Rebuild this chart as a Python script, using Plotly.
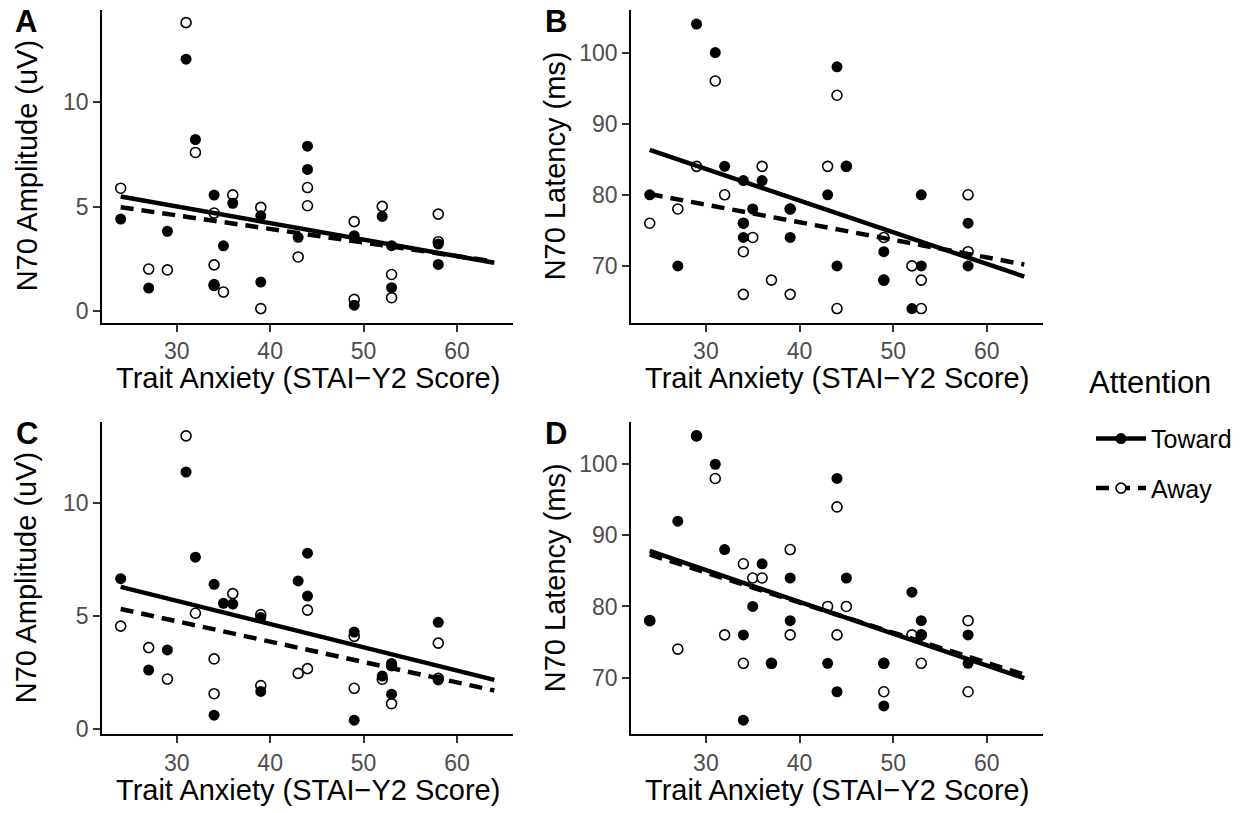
import plotly.graph_objects as go

# ---------------- data ----------------
A_toward_x = [24, 27, 29, 31, 32, 34, 34, 35, 36, 39, 39, 43, 44, 44, 49, 49, 52, 53, 53, 58, 58]
A_toward_y = [4.41, 1.11, 3.83, 12.06, 8.22, 5.56, 1.29, 3.13, 5.17, 4.57, 1.40, 3.54, 7.90, 6.79, 3.62, 0.29, 4.54, 1.13, 3.14, 3.22, 2.24]
A_away_x = [24, 27, 29, 31, 32, 34, 34, 34, 35, 36, 39, 39, 43, 44, 44, 49, 49, 52, 53, 53, 58, 58]
A_away_y = [5.89, 2.02, 1.98, 13.81, 7.60, 4.70, 2.22, 1.24, 0.92, 5.57, 4.97, 0.13, 2.60, 5.92, 5.05, 4.29, 0.57, 5.02, 1.76, 0.65, 4.65, 3.33]

B_toward_x = [24, 27, 29, 31, 32, 34, 34, 34, 35, 36, 39, 39, 43, 44, 44, 45, 49, 49, 52, 53, 53, 58, 58]
B_toward_y = [80, 70, 104, 100, 84, 82, 76, 74, 78, 82, 78, 74, 80, 98, 70, 84, 72, 68, 64, 80, 70, 76, 70]
B_away_x = [24, 27, 29, 31, 32, 34, 34, 34, 35, 36, 37, 39, 39, 43, 44, 44, 45, 49, 49, 52, 53, 53, 58, 58]
B_away_y = [76, 78, 84, 96, 80, 76, 72, 66, 74, 84, 68, 78, 66, 84, 94, 64, 84, 74, 68, 70, 68, 64, 80, 72]

C_toward_x = [24, 27, 29, 31, 32, 34, 34, 35, 36, 39, 39, 43, 44, 44, 49, 49, 52, 53, 53, 58, 58]
C_toward_y = [6.67, 2.63, 3.52, 11.39, 7.62, 6.42, 0.63, 5.58, 5.55, 4.95, 1.68, 6.57, 7.80, 5.90, 4.31, 0.41, 2.36, 2.92, 1.56, 4.74, 2.19]
C_away_x = [24, 27, 29, 31, 32, 34, 34, 36, 39, 39, 43, 44, 44, 49, 49, 52, 53, 53, 58, 58]
C_away_y = [4.57, 3.62, 2.23, 12.99, 5.14, 3.12, 1.58, 6.01, 5.08, 1.94, 2.48, 5.28, 2.69, 4.12, 1.82, 2.22, 2.82, 1.14, 3.82, 2.26]

D_toward_x = [24, 27, 29, 31, 32, 34, 34, 35, 36, 37, 39, 39, 43, 44, 44, 45, 49, 49, 52, 53, 53, 58, 58]
D_toward_y = [78, 92, 104, 100, 88, 76, 64, 80, 86, 72, 84, 78, 72, 98, 68, 84, 72, 66, 82, 78, 76, 76, 72]
D_away_x = [24, 27, 29, 31, 32, 34, 34, 35, 36, 37, 39, 39, 43, 44, 44, 45, 49, 49, 52, 53, 53, 58, 58]
D_away_y = [78, 74, 104, 98, 76, 86, 72, 84, 84, 72, 88, 76, 80, 94, 76, 80, 68, 72, 76, 72, 76, 78, 68]

# fitted regression lines, spanning x = 24..64
fit_x = [24, 64]
A_fit_toward = [5.49, 2.32]
A_fit_away = [4.98, 2.38]
B_fit_toward = [86.3, 68.5]
B_fit_away = [80.1, 70.2]
C_fit_toward = [6.31, 2.19]
C_fit_away = [5.33, 1.72]
D_fit_toward = [87.8, 69.9]
D_fit_away = [87.3, 70.4]

x_ticks = [30, 40, 50, 60]
amp_ticks = [0, 5, 10]
lat_ticks = [70, 80, 90, 100]

x_title = "Trait Anxiety (STAI\u2212Y2 Score)"
amp_title = "N70 Amplitude (uV)"
lat_title = "N70 Latency (ms)"
legend_title = "Attention"
group_names = ["Toward", "Away"]
panel_letters = ["A", "B", "C", "D"]

# ---------------- figure ----------------
W, H = 1244, 813
FONT = "Liberation Sans, Arial, Helvetica, sans-serif"

fig = go.Figure()

panels = [
    (A_toward_x, A_toward_y, A_away_x, A_away_y, A_fit_toward, A_fit_away),
    (B_toward_x, B_toward_y, B_away_x, B_away_y, B_fit_toward, B_fit_away),
    (C_toward_x, C_toward_y, C_away_x, C_away_y, C_fit_toward, C_fit_away),
    (D_toward_x, D_toward_y, D_away_x, D_away_y, D_fit_toward, D_fit_away),
]

filled_marker = dict(symbol="circle", size=11, color="black", line=dict(width=0))
open_marker = dict(symbol="circle", size=10, color="white", line=dict(width=1.6, color="black"))
DASH = "13px,8px"
LW = 4.5

for i, (tx, ty, ax_, ay_, ft, fa) in enumerate(panels):
    suffix = "" if i == 0 else str(i + 1)
    xa, ya = "x" + suffix, "y" + suffix
    fig.add_trace(go.Scatter(x=ax_, y=ay_, mode="markers", marker=open_marker,
                             xaxis=xa, yaxis=ya, showlegend=False, hoverinfo="skip"))
    fig.add_trace(go.Scatter(x=tx, y=ty, mode="markers", marker=filled_marker,
                             xaxis=xa, yaxis=ya, showlegend=False, hoverinfo="skip"))
    fig.add_trace(go.Scatter(x=fit_x, y=fa, mode="lines",
                             line=dict(color="black", width=LW, dash=DASH),
                             xaxis=xa, yaxis=ya, showlegend=False, hoverinfo="skip"))
    fig.add_trace(go.Scatter(x=fit_x, y=ft, mode="lines",
                             line=dict(color="black", width=LW),
                             xaxis=xa, yaxis=ya, showlegend=False, hoverinfo="skip"))

# legend entries
fig.add_trace(go.Scatter(x=[None], y=[None], mode="lines+markers", name=group_names[0],
                         line=dict(color="black", width=LW), marker=filled_marker,
                         legendgroup="t", xaxis="x", yaxis="y"))
fig.add_trace(go.Scatter(x=[None], y=[None], mode="lines+markers", name=group_names[1],
                         line=dict(color="black", width=LW, dash=DASH), marker=open_marker,
                         legendgroup="a", xaxis="x", yaxis="y"))

def px_x(p):
    return p / W

def px_y(p):
    return 1 - p / H

left_dom = [px_x(102), px_x(513)]
right_dom = [px_x(631), px_x(1043)]
top_dom = [px_y(326), px_y(10)]
bot_dom = [px_y(741.7), px_y(425.8)]

axis_common = dict(
    showline=True, linecolor="black", linewidth=1.6, mirror=False,
    ticks="outside", ticklen=7, tickwidth=1.5, tickcolor="#333333",
    showgrid=False, zeroline=False,
    tickfont=dict(family=FONT, size=23, color="#4D4D4D"),
)

xr = [22, 66]
layout_axes = {
    "xaxis": dict(domain=left_dom, anchor="y", range=xr, tickvals=x_ticks, **axis_common),
    "yaxis": dict(domain=top_dom, anchor="x", range=[-0.55, 14.42], tickvals=amp_ticks, **axis_common),
    "xaxis2": dict(domain=right_dom, anchor="y2", range=xr, tickvals=x_ticks, **axis_common),
    "yaxis2": dict(domain=top_dom, anchor="x2", range=[62, 106], tickvals=lat_ticks, **axis_common),
    "xaxis3": dict(domain=left_dom, anchor="y3", range=xr, tickvals=x_ticks, **axis_common),
    "yaxis3": dict(domain=bot_dom, anchor="x3", range=[-0.22, 13.62], tickvals=amp_ticks, **axis_common),
    "xaxis4": dict(domain=right_dom, anchor="y4", range=xr, tickvals=x_ticks, **axis_common),
    "yaxis4": dict(domain=bot_dom, anchor="x4", range=[62, 106], tickvals=lat_ticks, **axis_common),
}

annotations = []
title_font = dict(family=FONT, size=29, color="black")
# x-axis titles
for cx, cy in [(307.5, 382), (837, 382), (307.5, 798), (837, 798)]:
    annotations.append(dict(x=px_x(cx), y=px_y(cy), xref="paper", yref="paper",
                            text=x_title, showarrow=False, font=title_font,
                            xanchor="center", yanchor="middle"))
# y-axis titles
for cx, cy, t in [(27, 168, amp_title), (555, 168, lat_title),
                  (26, 584, amp_title), (555, 584, lat_title)]:
    annotations.append(dict(x=px_x(cx), y=px_y(cy), xref="paper", yref="paper",
                            text=t, showarrow=False, font=title_font, textangle=-90,
                            xanchor="center", yanchor="middle"))
# panel letters
for (cx, cy), letter in zip([(26, 22), (556, 22), (26.5, 438), (556, 438)], panel_letters):
    annotations.append(dict(x=px_x(cx), y=px_y(cy), xref="paper", yref="paper",
                            text="<b>" + letter + "</b>", showarrow=False,
                            font=dict(family=FONT, size=31, color="black"),
                            xanchor="center", yanchor="middle"))
# legend title
annotations.append(dict(x=px_x(1087), y=px_y(386), xref="paper", yref="paper",
                        text=legend_title, showarrow=False,
                        font=dict(family=FONT, size=31, color="black"),
                        xanchor="left", yanchor="middle"))

fig.update_layout(
    width=W, height=H,
    margin=dict(l=0, r=0, t=0, b=0),
    paper_bgcolor="white", plot_bgcolor="white",
    showlegend=True,
    legend=dict(
        x=px_x(1091), y=px_y(420), xanchor="left", yanchor="top",
        font=dict(family=FONT, size=25, color="black"),
        tracegroupgap=14, bgcolor="rgba(0,0,0,0)", itemwidth=50,
    ),
    annotations=annotations,
    **layout_axes,
)

fig.write_html("out.html")
